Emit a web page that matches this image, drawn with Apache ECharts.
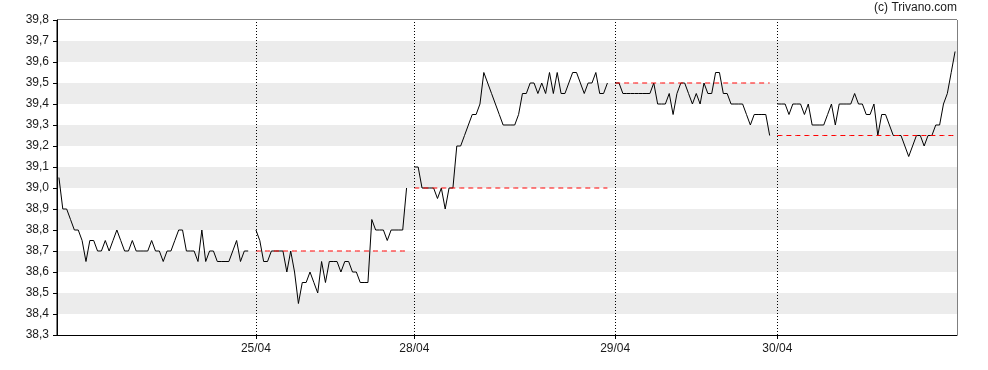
<!DOCTYPE html>
<html>
<head>
<meta charset="utf-8">
<script src="https://cdn.jsdelivr.net/npm/echarts@6/dist/echarts.min.js"></script>
<style>
html, body { margin: 0; padding: 0; background: #fff; }
#chart { width: 988px; height: 370px; }
</style>
</head>
<body>
<div id="chart"></div>
<script>
// ---- Data ----
const dayLabels = ['24/04', '25/04', '28/04', '29/04', '30/04'];

const day1 = [39.05,38.9,38.9,38.85,38.8,38.8,38.75,38.65,38.75,38.75,
  38.7,38.7,38.75,38.7,38.75,38.8,38.75,38.7,38.7,38.75,
  38.7,38.7,38.7,38.7,38.75,38.7,38.7,38.65,38.7,38.7,
  38.75,38.8,38.8,38.7,38.7,38.7,38.65,38.8,38.65,38.7,
  38.7,38.65,38.65,38.65,38.65,38.7,38.75,38.65,38.7,38.7];

const day2 = [38.8,38.75,38.65,38.65,38.7,38.7,38.7,38.7,38.6,38.7,
  38.6,38.45,38.55,38.55,38.6,38.55,38.5,38.65,38.55,38.65,
  38.65,38.65,38.6,38.65,38.65,38.6,38.6,38.55,38.55,38.55,
  38.85,38.8,38.8,38.8,38.75,38.8,38.8,38.8,38.8,39.0];

const day3 = [39.1,39.1,39.0,39.0,39.0,39.0,38.95,39.0,38.9,39.0,
  39.0,39.2,39.2,39.25,39.3,39.35,39.35,39.4,39.55,39.5,
  39.45,39.4,39.35,39.3,39.3,39.3,39.3,39.35,39.45,39.45,
  39.5,39.5,39.45,39.5,39.45,39.55,39.45,39.55,39.45,39.45,
  39.5,39.55,39.55,39.5,39.45,39.5,39.5,39.55,39.45,39.45,
  39.5];

const day4 = [39.5,39.5,39.45,39.45,39.45,39.45,39.45,39.45,39.45,39.45,
  39.5,39.4,39.4,39.4,39.45,39.35,39.45,39.5,39.5,39.45,
  39.4,39.45,39.4,39.5,39.45,39.45,39.55,39.55,39.45,39.45,
  39.4,39.4,39.4,39.4,39.35,39.3,39.35,39.35,39.35,39.35,
  39.25];

const day5 = [39.4,39.4,39.4,39.35,39.4,39.4,39.4,39.35,39.4,39.3,
  39.3,39.3,39.3,39.35,39.4,39.3,39.4,39.4,39.4,39.4,
  39.45,39.4,39.4,39.35,39.35,39.4,39.25,39.35,39.35,39.3,
  39.25,39.25,39.25,39.2,39.15,39.2,39.25,39.25,39.2,39.25,
  39.25,39.3,39.3,39.4,39.45,39.55,39.65];

const yTicksMin = 38.3, yTicksMax = 39.8, yTickStep = 0.1;

// ---- Build slots ----
const days = [day1, day2, day3, day4, day5];
const categories = [];
const price = [];
const prevClose = [];
const dayStartNames = [];
days.forEach((d, di) => {
  const ref = di > 0 ? days[di - 1][days[di - 1].length - 1] : null;
  d.forEach((v, i) => {
    const name = dayLabels[di] + '|' + i;
    if (i === 0) dayStartNames.push(name);
    categories.push(name);
    price.push(v);
    prevClose.push(ref);
  });
  if (di < days.length - 1) {
    categories.push(dayLabels[di] + '|gap');
    price.push(null);
    prevClose.push(null);
  }
});
const shownStarts = dayStartNames.slice(1);

const FONT = '"Liberation Sans", Arial, sans-serif';
const chart = echarts.init(document.getElementById('chart'), null, { renderer: 'canvas' });
chart.setOption({
  animation: false,
  textStyle: { fontFamily: FONT },
  grid: { left: 57, right: 31, top: 20, bottom: 35, show: true, borderColor: '#000', borderWidth: 1, backgroundColor: 'transparent' },
  graphic: [{
    type: 'text', right: 31, top: 2,
    style: { text: '(c) Trivano.com', fontSize: 12, fill: '#1a1a1a', fontFamily: FONT }
  }],
  xAxis: {
    type: 'category',
    data: categories,
    boundaryGap: true,
    axisLine: { show: true, lineStyle: { color: '#000', width: 1 } },
    axisTick: {
      show: true, length: 4, alignWithLabel: true,
      interval: (idx, val) => shownStarts.indexOf(val) >= 0,
      lineStyle: { color: '#000' }
    },
    axisLabel: {
      interval: 0, margin: 8, fontSize: 12, color: '#1a1a1a', fontFamily: FONT,
      formatter: (val) => shownStarts.indexOf(val) >= 0 ? val.split('|')[0] : ''
    },
    splitLine: { show: false }
  },
  yAxis: {
    type: 'value',
    min: yTicksMin, max: yTicksMax, interval: yTickStep,
    axisLine: { show: true, lineStyle: { color: '#000', width: 1 } },
    axisTick: { show: true, length: 4, lineStyle: { color: '#000' } },
    axisLabel: {
      margin: 8, fontSize: 12, color: '#1a1a1a', fontFamily: FONT,
      formatter: (v) => v.toFixed(1).replace('.', ',')
    },
    splitLine: { show: false },
    splitArea: { show: true, areaStyle: { color: ['#ffffff', '#ececec'] } }
  },
  series: [
    {
      type: 'line',
      data: price,
      symbol: 'none',
      connectNulls: false,
      lineStyle: { color: '#000', width: 1 },
      z: 2,
      markLine: {
        silent: true,
        symbol: ['none', 'none'],
        label: { show: false },
        lineStyle: { color: '#000', type: [1, 2], width: 1 },
        data: shownStarts.map(n => ({ xAxis: n }))
      }
    },
    {
      type: 'line',
      data: prevClose,
      symbol: 'none',
      connectNulls: false,
      lineStyle: { color: '#ff0000', width: 1, type: [5, 4] },
      z: 3
    }
  ]
});
</script>
</body>
</html>
